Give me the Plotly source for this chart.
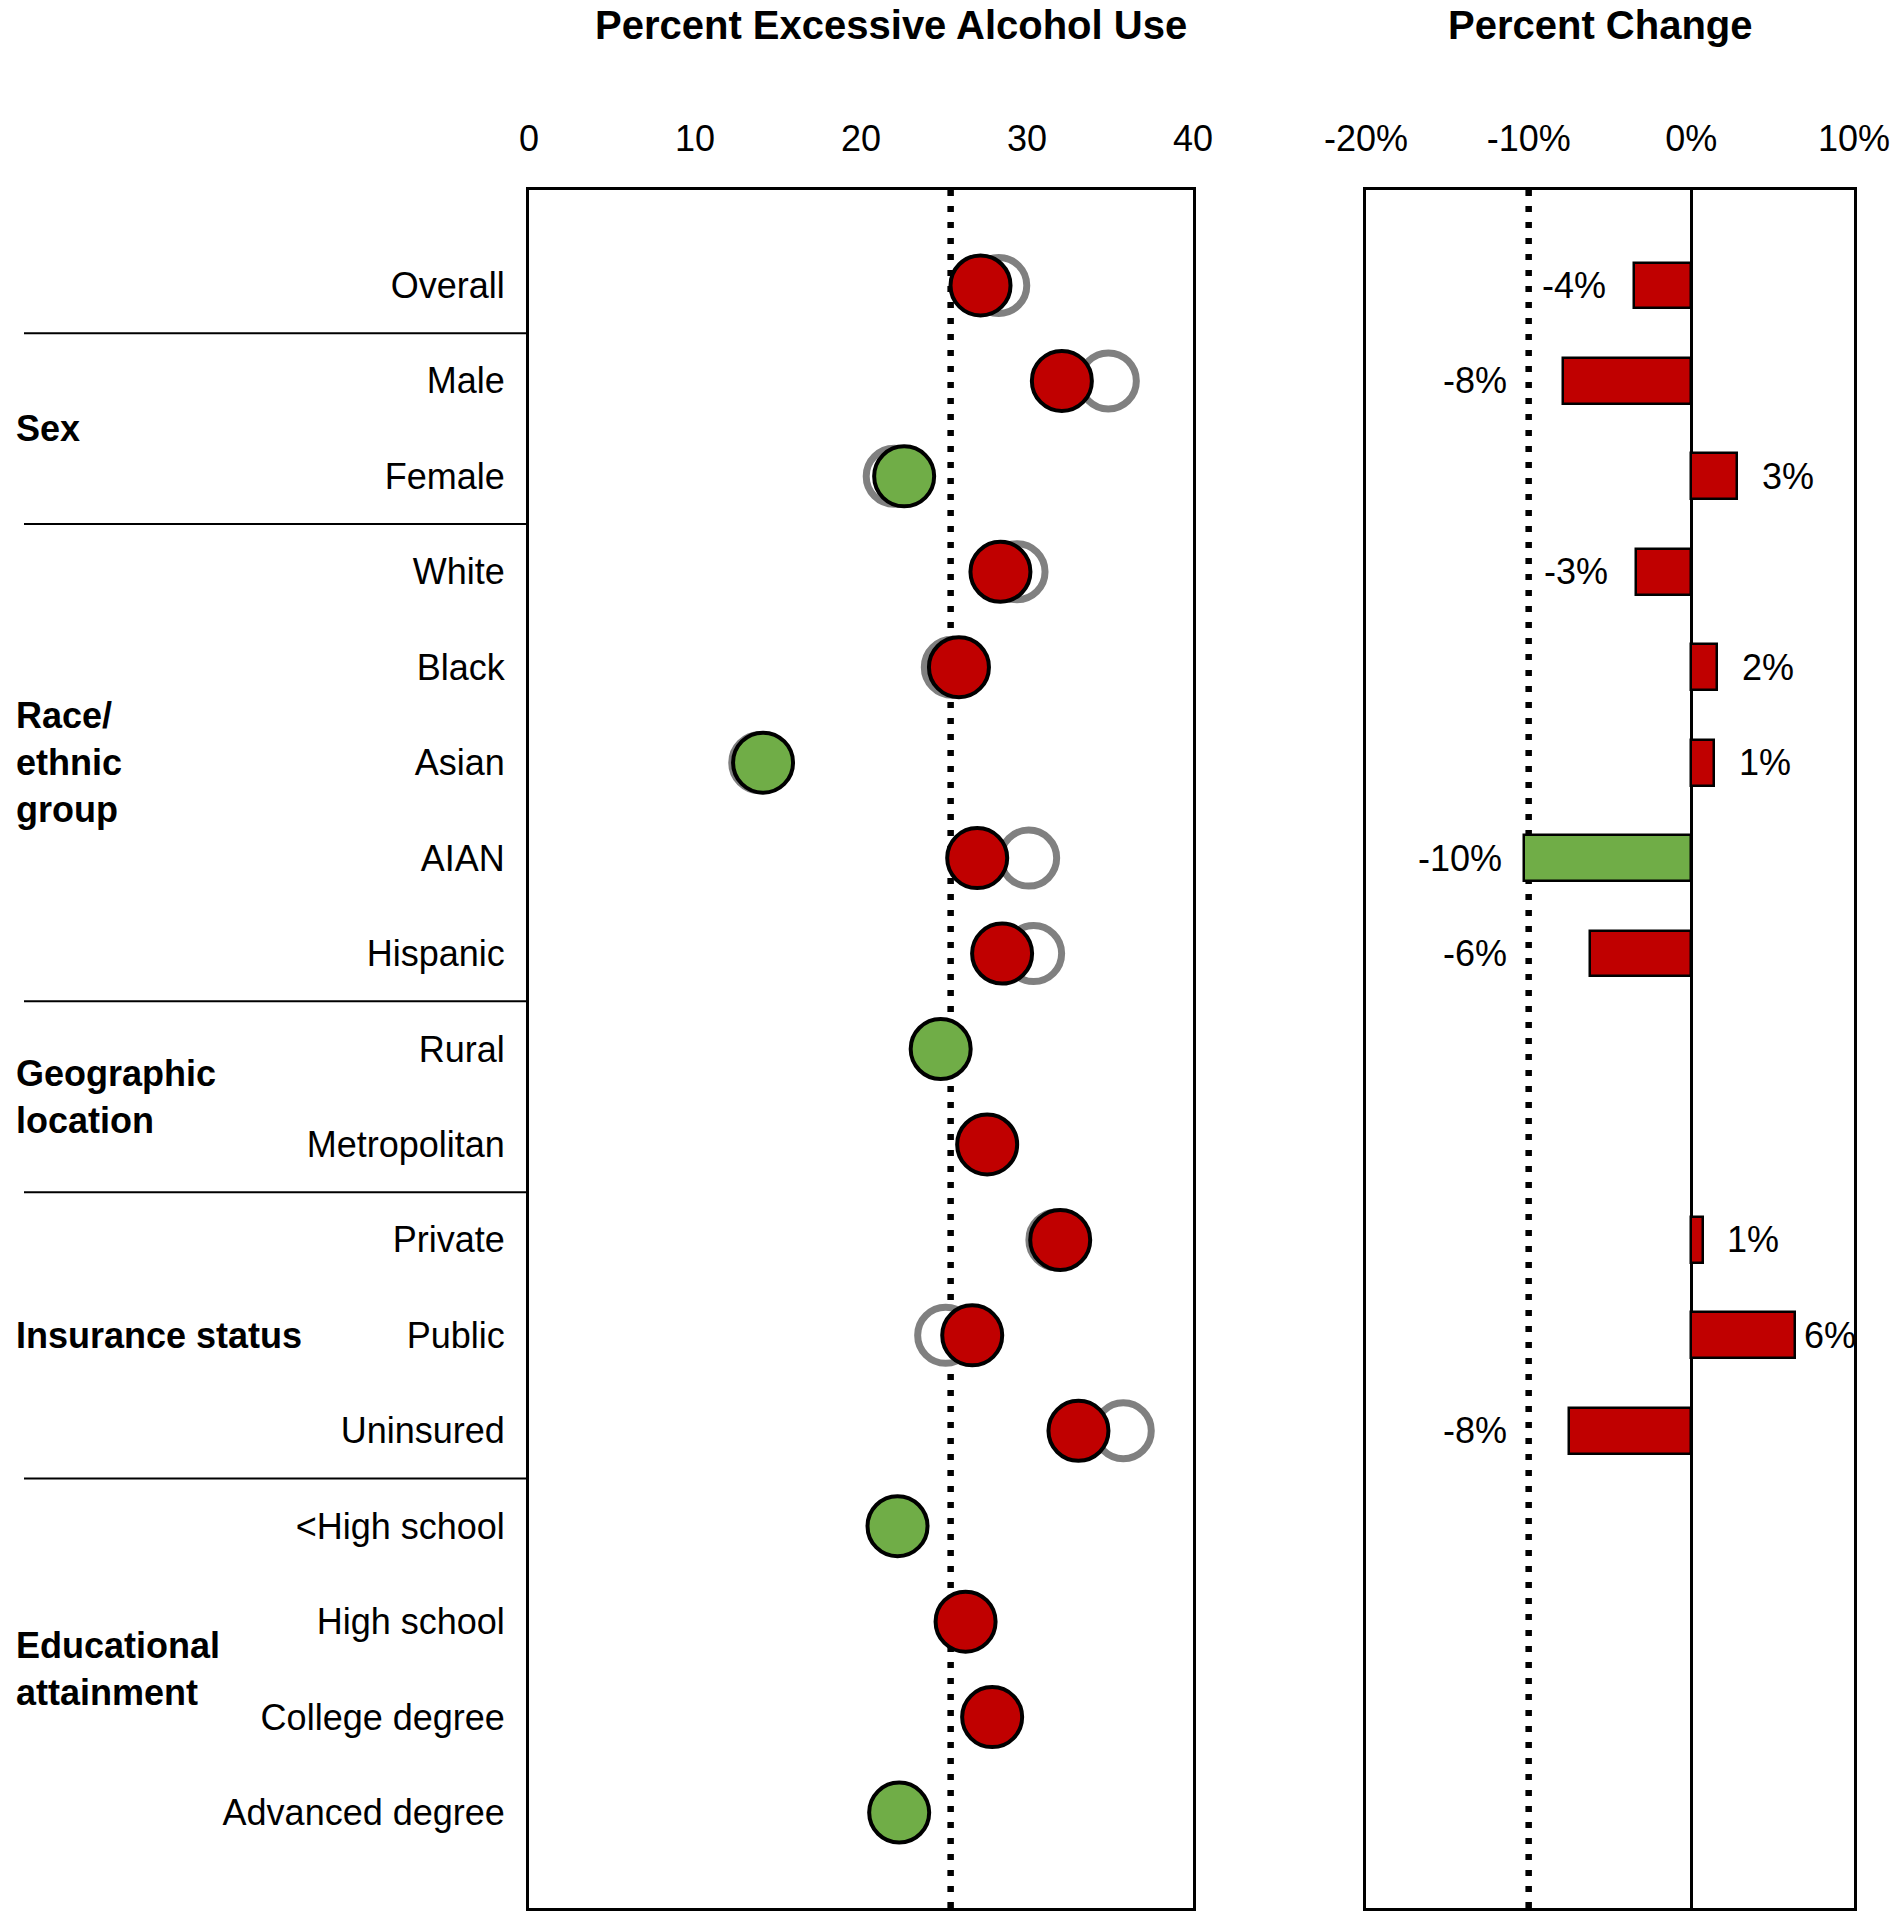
import plotly.graph_objects as go

# ---------------- data ----------------
categories = ["Overall", "Male", "Female", "White", "Black", "Asian", "AIAN", "Hispanic",
              "Rural", "Metropolitan", "Private", "Public", "Uninsured",
              "<High school", "High school", "College degree", "Advanced degree"]
group_names = ["", "Sex", "Race/<br>ethnic<br>group", "Geographic<br>location",
               "Insurance status", "Educational<br>attainment"]
group_sizes = [1, 2, 5, 2, 3, 4]

current = [27.2, 32.1, 22.6, 28.4, 25.9, 14.1, 27.0, 28.5,
           24.8, 27.6, 32.0, 26.7, 33.1, 22.2, 26.3, 27.9, 22.3]
baseline = [28.3, 34.9, 22.0, 29.4, 25.5, 13.9, 30.1, 30.4,
            None, None, 31.8, 25.1, 35.8, None, None, None, None]
pct_change = [-3.5, -7.9, 2.8, -3.4, 1.6, 1.4, -10.3, -6.2,
              None, None, 0.7, 6.4, -7.5, None, None, None, None]
pct_labels = ["-4%", "-8%", "3%", "-3%", "2%", "1%", "-10%", "-6%",
              "", "", "1%", "6%", "-8%", "", "", "", ""]

target_level = 25.4
target_change = -10

x1_ticks = [0, 10, 20, 30, 40]
x2_ticks = [-20, -10, 0, 10]
x2_ticktext = ["-20%", "-10%", "0%", "10%"]

# ---------------- layout constants ----------------
W, H = 1902, 1920
FONT = "Liberation Sans, Arial, sans-serif"
RED = "#C00000"
GREEN = "#70AD47"
GRAY = "#808080"

L1, R1 = 529, 1193
L2, R2 = 1366, 1854
TOP, BOT = 190, 1908


def px(x):
    return x / W


def py(y):
    return 1 - y / H


n = len(categories)
n_slots = n + 1
row_h = (BOT - TOP) / n_slots


def row_y(idx):
    return TOP + (idx + 1) * row_h


fig = go.Figure()

# baseline (gray open) circles
fig.add_trace(go.Scatter(
    x=baseline, y=categories, mode="markers", xaxis="x", yaxis="y",
    marker=dict(size=56, color="white", line=dict(color=GRAY, width=7)),
    hoverinfo="skip", showlegend=False, cliponaxis=False))

# current circles
cur_colors = [GREEN if v < target_level else RED for v in current]
fig.add_trace(go.Scatter(
    x=current, y=categories, mode="markers", xaxis="x", yaxis="y",
    marker=dict(size=60, color=cur_colors, line=dict(color="black", width=4)),
    hoverinfo="skip", showlegend=False, cliponaxis=False))

# percent change bars
bar_colors = [GREEN if (v is not None and v <= target_change) else RED for v in pct_change]
fig.add_trace(go.Bar(
    x=pct_change, y=categories, orientation="h", xaxis="x2", yaxis="y2",
    width=0.48, marker=dict(color=bar_colors, line=dict(color="black", width=2.5)),
    hoverinfo="skip", showlegend=False))

# ---------------- annotations ----------------
ann = []
ann.append(dict(text="<b>Percent Excessive Alcohol Use</b>", x=px(891), y=py(25),
                xref="paper", yref="paper", showarrow=False, xanchor="center", yanchor="middle",
                font=dict(size=40, family=FONT, color="black")))
ann.append(dict(text="<b>Percent Change</b>", x=px(1600), y=py(25),
                xref="paper", yref="paper", showarrow=False, xanchor="center", yanchor="middle",
                font=dict(size=40, family=FONT, color="black")))

# group labels and separators
shapes = []
start = 0
for gi, (gname, gsize) in enumerate(zip(group_names, group_sizes)):
    mid = start + (gsize - 1) / 2
    if gname:
        ann.append(dict(text="<b>" + gname + "</b>", x=px(14), y=py(row_y(mid)),
                        xref="paper", yref="paper", showarrow=False, xanchor="left",
                        yanchor="middle", align="left",
                        font=dict(size=36, family=FONT, color="black")))
    if gi < len(group_sizes) - 1:
        yb = row_y(start + gsize - 0.5)
        shapes.append(dict(type="line", xref="paper", yref="paper",
                           x0=px(24), x1=px(L1), y0=py(yb), y1=py(yb),
                           line=dict(color="black", width=2)))
    start += gsize

# percent labels
CW = {"-": 0.333, "%": 0.889}
px_per_pct = (R2 - L2) / (x2_ticks[-1] - x2_ticks[0])


def label_w(s):
    return sum(CW.get(c, 0.556) for c in s) * 36 / px_per_pct


for cat, v, lab in zip(categories, pct_change, pct_labels):
    if v is None or not lab:
        continue
    w = label_w(lab)
    if v < 0:
        xr = v - 1.6
        if xr - w < target_change:
            xr = min(v - 1.2, target_change - 1.2)
        ann.append(dict(text=lab, x=xr, y=cat, xref="x2", yref="y2", showarrow=False,
                        xanchor="right", yanchor="middle",
                        font=dict(size=36, family=FONT, color="black")))
    else:
        xl = min(v + 1.4, x2_ticks[-1] - w)
        ann.append(dict(text=lab, x=xl, y=cat, xref="x2", yref="y2", showarrow=False,
                        xanchor="left", yanchor="middle",
                        font=dict(size=36, family=FONT, color="black")))

# dotted reference lines
shapes.append(dict(type="line", xref="x", yref="y domain", x0=target_level, x1=target_level,
                   y0=0, y1=1, layer="below", line=dict(color="black", width=6.5, dash="6px,10px")))
shapes.append(dict(type="line", xref="x2", yref="y2 domain", x0=target_change, x1=target_change,
                   y0=0, y1=1, layer="below", line=dict(color="black", width=6.5, dash="6px,10px")))

ydom = [py(BOT), py(TOP)]
common_x = dict(side="top", ticks="", showgrid=False, showline=True, mirror=True,
                linecolor="black", linewidth=3, tickfont=dict(size=36, family=FONT, color="black"),
                ticklabelstandoff=22, fixedrange=True, automargin=False)
common_y = dict(type="category", categoryorder="array", categoryarray=categories,
                range=[n, -1], showgrid=False, showline=True, mirror=True, ticks="",
                linecolor="black", linewidth=3, zeroline=False, domain=ydom, fixedrange=True,
                automargin=False)

fig.update_layout(
    width=W, height=H, autosize=False, margin=dict(l=0, r=0, t=0, b=0, pad=0),
    paper_bgcolor="white", plot_bgcolor="white",
    font=dict(family=FONT, color="black"),
    showlegend=False,
    xaxis=dict(domain=[px(L1), px(R1)], range=[x1_ticks[0], x1_ticks[-1]], tickvals=x1_ticks,
               zeroline=False, anchor="y", **common_x),
    yaxis=dict(anchor="x", tickfont=dict(size=36, family=FONT, color="black"),
               ticklabelstandoff=14, **common_y),
    xaxis2=dict(domain=[px(L2), px(R2)], range=[x2_ticks[0], x2_ticks[-1]], tickvals=x2_ticks,
                ticktext=x2_ticktext, zeroline=True, zerolinecolor="black", zerolinewidth=3,
                anchor="y2", **common_x),
    yaxis2=dict(anchor="x2", showticklabels=False, **common_y),
    annotations=ann,
    shapes=shapes,
    bargap=0,
)

fig.write_html("out.html", config={"displayModeBar": False},
               post_script="document.body.style.margin='0';")
